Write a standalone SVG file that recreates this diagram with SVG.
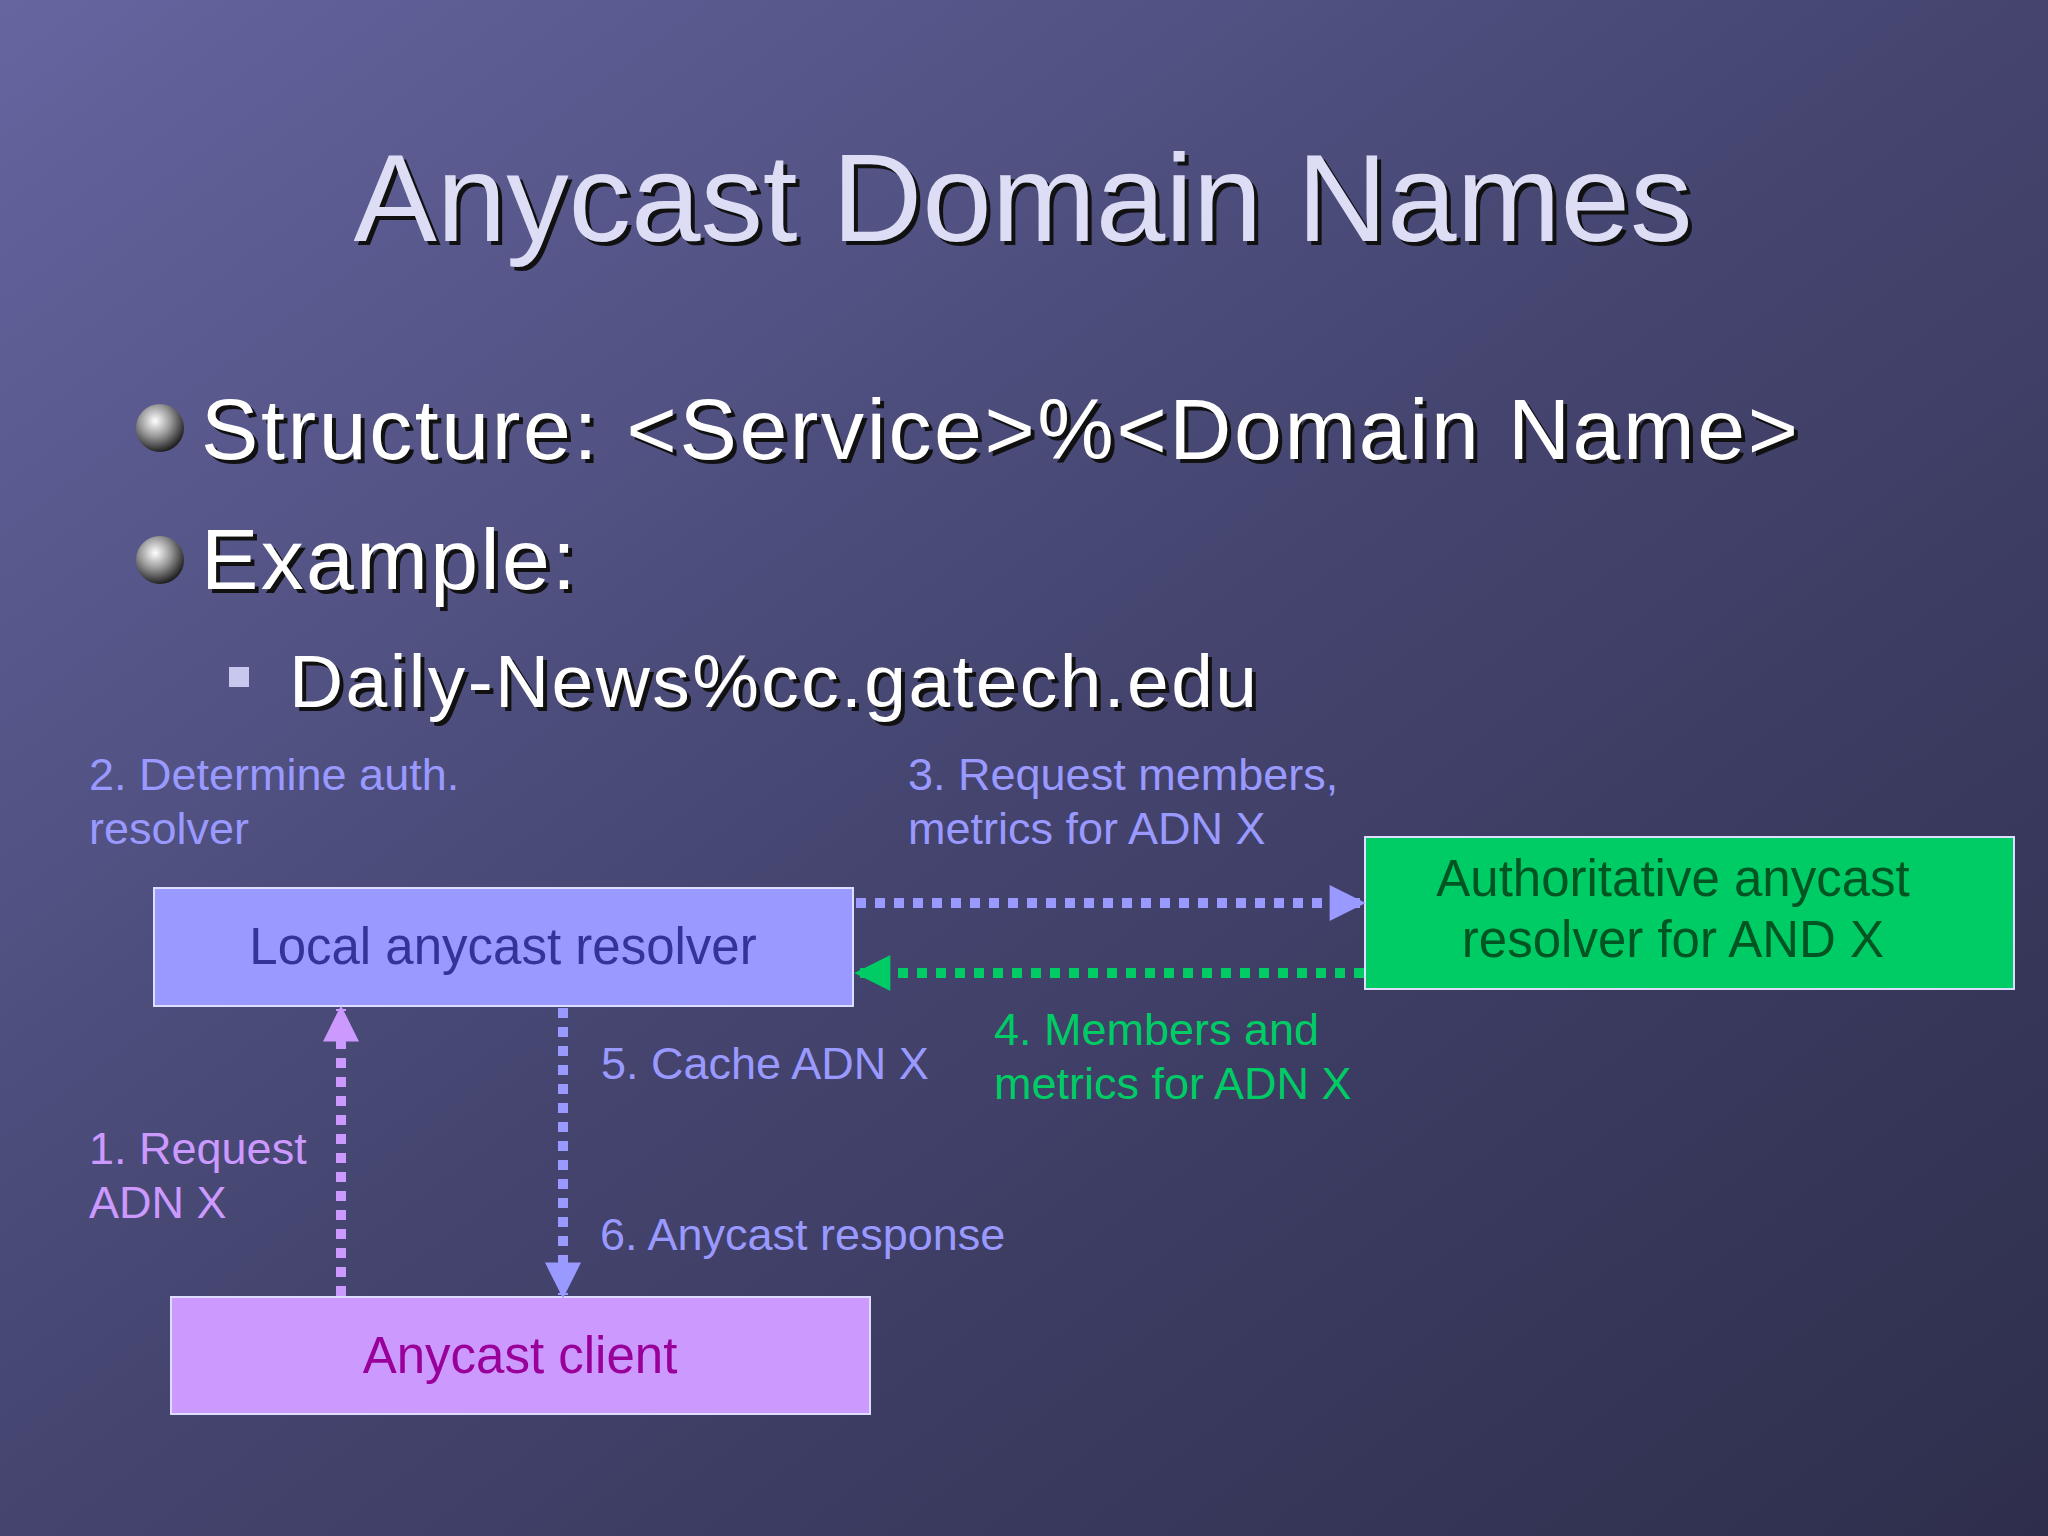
<svg xmlns="http://www.w3.org/2000/svg" width="2048" height="1536" viewBox="0 0 2048 1536">
<defs>
<linearGradient id="bg" x1="0" y1="0" x2="1" y2="1">
<stop offset="0" stop-color="#6565a0"/><stop offset="0.5" stop-color="#44446f"/><stop offset="1" stop-color="#2e2e4c"/>
</linearGradient>
<radialGradient id="ball" cx="0.4" cy="0.35" r="0.65">
<stop offset="0" stop-color="#ffffff"/><stop offset="0.5" stop-color="#999999"/><stop offset="1" stop-color="#222222"/>
</radialGradient>
<marker id="aGreen" viewBox="0 0 10 10" markerWidth="40" markerHeight="36" refX="9" refY="5" orient="auto" markerUnits="userSpaceOnUse"><path d="M0,0 L10,5 L0,10 z" fill="#00cc66"/></marker>
<marker id="aBlue2" viewBox="0 0 10 10" markerWidth="40" markerHeight="36" refX="9" refY="5" orient="auto" markerUnits="userSpaceOnUse"><path d="M0,0 L10,5 L0,10 z" fill="#9999ff"/></marker>
<marker id="aPink" viewBox="0 0 10 10" markerWidth="40" markerHeight="36" refX="9" refY="5" orient="auto" markerUnits="userSpaceOnUse"><path d="M0,0 L10,5 L0,10 z" fill="#cc99ff"/></marker>
</defs>
<style>
.t{font-family:"Liberation Sans",Arial,sans-serif}
.sh{fill:#ffffff;stroke:none}
.lbl{font-family:"Liberation Sans",Arial,sans-serif;font-size:45px}
.box{stroke:#ddddff;stroke-width:2}
.con{fill:none;stroke-width:10;stroke-dasharray:10 9}
</style>
<rect width="2048" height="1536" fill="url(#bg)"/>
<g id="title">
<text class="t" x="1027" y="245" font-size="125" text-anchor="middle" fill="#111" textLength="1339">Anycast Domain Names</text>
<text class="t" x="1023" y="241" font-size="125" text-anchor="middle" fill="#ddddf5" textLength="1339">Anycast Domain Names</text>
</g>
<g id="bullets">
<circle cx="160" cy="428" r="24" fill="url(#ball)"/>
<circle cx="160" cy="560" r="24" fill="url(#ball)"/>
<text class="t" x="205" y="463" font-size="86" fill="#111" textLength="1597">Structure: &lt;Service&gt;%&lt;Domain Name&gt;</text>
<text class="t sh" x="201" y="459" font-size="86" textLength="1597">Structure: &lt;Service&gt;%&lt;Domain Name&gt;</text>
<text class="t" x="205" y="593" font-size="86" fill="#111" textLength="375">Example:</text>
<text class="t sh" x="201" y="589" font-size="86" textLength="375">Example:</text>
<rect x="229" y="667" width="20" height="20" fill="#c8c8ee"/>
<text class="t" x="293" y="711" font-size="75" fill="#111" textLength="968">Daily-News%cc.gatech.edu</text>
<text class="t sh" x="289" y="707" font-size="75" textLength="968">Daily-News%cc.gatech.edu</text>
</g>
<g id="local">
<rect class="box" x="154" y="888" width="699" height="118" fill="#9999ff"/>
<text class="t" x="503" y="964" font-size="51" text-anchor="middle" fill="#333399">Local anycast resolver</text>
</g>
<g id="auth">
<rect class="box" x="1365" y="837" width="649" height="152" fill="#00cc66"/>
<text class="t" x="1673" y="896" font-size="51" text-anchor="middle" fill="#005522">Authoritative anycast</text>
<text class="t" x="1673" y="957" font-size="51" text-anchor="middle" fill="#005522">resolver for AND X</text>
</g>
<g id="client">
<rect class="box" x="171" y="1297" width="699" height="117" fill="#cc99ff"/>
<text class="t" x="520" y="1373" font-size="51" text-anchor="middle" fill="#990099">Anycast client</text>
</g>
<g id="connectors">
<line class="con" x1="856" y1="903" x2="1362" y2="903" stroke="#9999ff" marker-end="url(#aBlue2)"/>
<line class="con" x1="1364" y1="973" x2="858" y2="973" stroke="#00cc66" marker-end="url(#aGreen)"/>
<line class="con" x1="341" y1="1296" x2="341" y2="1009" stroke="#cc99ff" marker-end="url(#aPink)"/>
<line class="con" x1="563" y1="1008" x2="563" y2="1295" stroke="#9999ff" marker-end="url(#aBlue2)"/>
</g>
<g id="labels">
<text class="lbl" x="89" y="790" fill="#9999ff">2. Determine auth.</text>
<text class="lbl" x="89" y="844" fill="#9999ff">resolver</text>
<text class="lbl" x="908" y="790" fill="#9999ff">3. Request members,</text>
<text class="lbl" x="908" y="844" fill="#9999ff">metrics for ADN X</text>
<text class="lbl" x="994" y="1045" fill="#00cc66">4. Members and</text>
<text class="lbl" x="994" y="1099" fill="#00cc66">metrics for ADN X</text>
<text class="lbl" x="601" y="1079" fill="#9999ff">5. Cache ADN X</text>
<text class="lbl" x="89" y="1164" fill="#cc99ff">1. Request</text>
<text class="lbl" x="89" y="1218" fill="#cc99ff">ADN X</text>
<text class="lbl" x="600" y="1250" fill="#9999ff">6. Anycast response</text>
</g>
</svg>
